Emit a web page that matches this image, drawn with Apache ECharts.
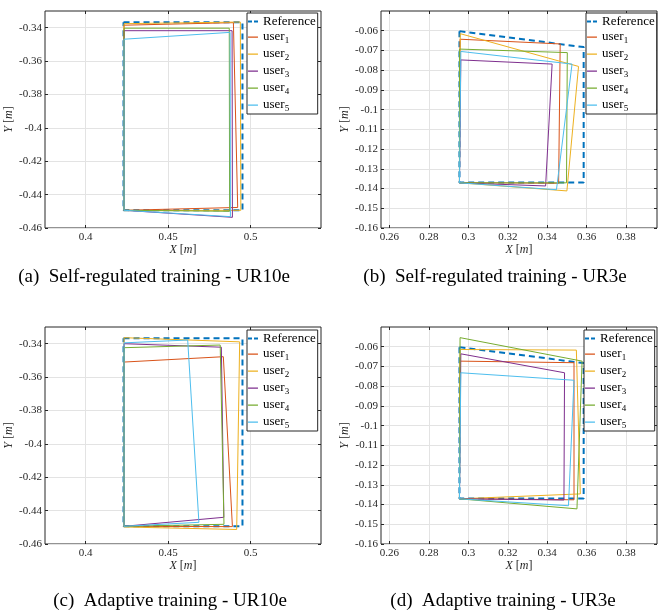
<!DOCTYPE html>
<html style="height: 100%">
<head>
    <meta charset="utf-8">
    <title>ECharts</title>
    <script src="https://cdn.jsdelivr.net/npm/echarts@6.0.0/dist/echarts.min.js"></script>
</head>
<body style="height: 100%; margin: 0; background: #fff">
<div id="main" style="width: 660px; height: 612px"></div>
<script type="text/javascript">

    // tick labels
    var xTicksUR10e = [0.4, 0.45, 0.5];
    var yTicksUR10e = [-0.46, -0.44, -0.42, -0.4, -0.38, -0.36, -0.34];
    var xTicksUR3e = [0.26, 0.28, 0.3, 0.32, 0.34, 0.36, 0.38];
    var yTicksUR3e = [-0.16, -0.15, -0.14, -0.13, -0.12, -0.11, -0.1, -0.09, -0.08, -0.07, -0.06];

    var userNames = ['user1', 'user2', 'user3', 'user4', 'user5'];

    // reference paths (corners)
    var refUR10e = [[0.4229, -0.3368], [0.4950, -0.3368], [0.4950, -0.4494], [0.4229, -0.4494]];
    var refUR3e = [[0.2955, -0.0602], [0.3585, -0.0683], [0.3585, -0.1369], [0.2955, -0.1369]];

    // user paths, user1..user5 (corners)
    var selfUR10e = [
        [[0.4232, -0.3385], [0.4895, -0.3370], [0.4921, -0.4477], [0.4232, -0.4494]],
        [[0.4232, -0.3376], [0.4937, -0.3366], [0.4940, -0.4494], [0.4232, -0.4496]],
        [[0.4232, -0.3418], [0.4887, -0.3418], [0.4889, -0.4536], [0.4232, -0.4494]],
        [[0.4232, -0.3403], [0.4870, -0.3403], [0.4872, -0.4500], [0.4232, -0.4494]],
        [[0.4232, -0.3469], [0.4875, -0.3428], [0.4877, -0.4532], [0.4232, -0.4494]]
    ];
    var selfUR3e = [
        [[0.2958, -0.0643], [0.3466, -0.0667], [0.3458, -0.1373], [0.2955, -0.1370]],
        [[0.2959, -0.0615], [0.3559, -0.0781], [0.3500, -0.1412], [0.2955, -0.1371]],
        [[0.2962, -0.0748], [0.3425, -0.0769], [0.3392, -0.1387], [0.2955, -0.1371]],
        [[0.2955, -0.0693], [0.3502, -0.0711], [0.3498, -0.1371], [0.2955, -0.1371]],
        [[0.2962, -0.0705], [0.3526, -0.0769], [0.3447, -0.1406], [0.2955, -0.1371]]
    ];
    var adaptUR10e = [
        [[0.4232, -0.3510], [0.4834, -0.3478], [0.4889, -0.4496], [0.4232, -0.4494]],
        [[0.4232, -0.3364], [0.4933, -0.3389], [0.4915, -0.4513], [0.4232, -0.4498]],
        [[0.4232, -0.3400], [0.4822, -0.3421], [0.4837, -0.4440], [0.4232, -0.4494]],
        [[0.4232, -0.3424], [0.4815, -0.3408], [0.4838, -0.4482], [0.4232, -0.4494]],
        [[0.4232, -0.3395], [0.4618, -0.3378], [0.4686, -0.4470], [0.4232, -0.4494]]
    ];
    var adaptUR3e = [
        [[0.2958, -0.0673], [0.3536, -0.0681], [0.3536, -0.1376], [0.2955, -0.1370]],
        [[0.2958, -0.0614], [0.3548, -0.0617], [0.3568, -0.1346], [0.2955, -0.1371]],
        [[0.2962, -0.0636], [0.3488, -0.0732], [0.3485, -0.1377], [0.2955, -0.1371]],
        [[0.2958, -0.0554], [0.3577, -0.0673], [0.3551, -0.1422], [0.2955, -0.1371]],
        [[0.2962, -0.0732], [0.3536, -0.0770], [0.3508, -0.1406], [0.2955, -0.1371]]
    ];

    var captions = [
        '(a)  Self-regulated training - UR10e',
        '(b)  Self-regulated training - UR3e',
        '(c)  Adaptive training - UR10e',
        '(d)  Adaptive training - UR3e'
    ];

    var refColor = '#0072BD';
    var userColors = ['#D95319', '#EDB120', '#7E2F8E', '#77AC30', '#4DBEEE'];
    var serif = '"Liberation Serif", "DejaVu Serif", serif';
    var ink = '#262626';

    // legend samples: dashed for the reference, plain line for users
    var refIcon = 'path://M0,0h4v2h-4zM6,0h4v2h-4z';
    var userIcon = 'path://M0,0.5h10v1.2h-10zM0,0h0.01v0.01h-0.01zM0,2h0.01v0.01h-0.01z';

    var panels = [
        {grid: {left: 45, top: 11, width: 276, height: 217}, xr: [0.3753, 0.5426], yr: [-0.46, -0.33],
            xt: xTicksUR10e, yt: yTicksUR10e, ref: refUR10e, users: selfUR10e, leg: [247, 13], cap: [154, 276]},
        {grid: {left: 381, top: 11, width: 276, height: 217}, xr: [0.2557, 0.3957], yr: [-0.16, -0.05],
            xt: xTicksUR3e, yt: yTicksUR3e, ref: refUR3e, users: selfUR3e, leg: [586, 13], cap: [495, 276]},
        {grid: {left: 45, top: 327, width: 276, height: 217}, xr: [0.3753, 0.5426], yr: [-0.46, -0.33],
            xt: xTicksUR10e, yt: yTicksUR10e, ref: refUR10e, users: adaptUR10e, leg: [247, 330], cap: [170, 600]},
        {grid: {left: 381, top: 327, width: 276, height: 217}, xr: [0.2557, 0.3957], yr: [-0.16, -0.05],
            xt: xTicksUR3e, yt: yTicksUR3e, ref: refUR3e, users: adaptUR3e, leg: [584, 330], cap: [503, 600]}
    ];

    function closed(pts) {
        return pts.concat([pts[0]]);
    }

    var nameRich = {
        i: {fontFamily: serif, fontStyle: 'italic', fontSize: 12, color: ink},
        n: {fontFamily: serif, fontSize: 12, color: ink}
    };

    var grids = [], xAxes = [], yAxes = [], series = [], legends = [], graphics = [];

    panels.forEach(function (p, k) {
        grids.push(Object.assign({show: true, borderColor: ink, borderWidth: 1, backgroundColor: '#fff'}, p.grid));

        xAxes.push({
            gridIndex: k, type: 'value', min: p.xr[0], max: p.xr[1],
            name: '{i|X}{n| [}{i|m}{n|]}', nameLocation: 'middle', nameGap: 16,
            nameTextStyle: {rich: nameRich},
            axisLine: {show: false},
            axisTick: {inside: true, length: 3, customValues: p.xt, lineStyle: {color: ink}},
            axisLabel: {customValues: p.xt, fontFamily: serif, fontSize: 11, color: ink, margin: 4},
            splitLine: {show: true, lineStyle: {color: '#e3e3e3', width: 1}}
        });
        xAxes.push({
            gridIndex: k, type: 'value', position: 'top', min: p.xr[0], max: p.xr[1],
            axisLine: {show: false}, axisLabel: {show: false}, splitLine: {show: false},
            axisTick: {inside: true, length: 3, customValues: p.xt, lineStyle: {color: ink}}
        });
        yAxes.push({
            gridIndex: k, type: 'value', min: p.yr[0], max: p.yr[1],
            name: '{i|Y}{n| [}{i|m}{n|]}', nameLocation: 'middle', nameGap: 30,
            nameTextStyle: {rich: nameRich},
            axisLine: {show: false},
            axisTick: {inside: true, length: 3, customValues: p.yt, lineStyle: {color: ink}},
            axisLabel: {customValues: p.yt, fontFamily: serif, fontSize: 11, color: ink, margin: 3},
            splitLine: {show: true, lineStyle: {color: '#e3e3e3', width: 1}}
        });
        yAxes.push({
            gridIndex: k, type: 'value', position: 'right', min: p.yr[0], max: p.yr[1],
            axisLine: {show: false}, axisLabel: {show: false}, splitLine: {show: false},
            axisTick: {inside: true, length: 3, customValues: p.yt, lineStyle: {color: ink}}
        });

        series.push({
            name: 'Reference', type: 'line', xAxisIndex: 2 * k, yAxisIndex: 2 * k,
            data: closed(p.ref), symbol: 'none', z: 2,
            lineStyle: {color: refColor, width: 2, type: [6, 4]}, itemStyle: {color: refColor}
        });
        p.users.forEach(function (pts, u) {
            series.push({
                name: userNames[u], type: 'line', xAxisIndex: 2 * k, yAxisIndex: 2 * k,
                data: closed(pts), symbol: 'none', z: 3,
                lineStyle: {color: userColors[u], width: 1}, itemStyle: {color: userColors[u]}
            });
        });

        legends.push({
            left: p.leg[0], top: p.leg[1], orient: 'vertical',
            data: [{name: 'Reference', icon: refIcon}].concat(userNames.map(function (n) {
                return {name: n, icon: userIcon};
            })),
            backgroundColor: '#fff', borderColor: ink, borderWidth: 1, borderRadius: 0,
            padding: [2, 2, 1, 1], itemGap: 2.5, itemWidth: 10, itemHeight: 2,
            selectedMode: false,
            formatter: function (n) {
                return n === 'Reference' ? '{t|Reference}' : '{t|user}{s|' + n.slice(4) + '}';
            },
            textStyle: {
                rich: {
                    t: {fontFamily: serif, fontSize: 13, color: '#000'},
                    s: {fontFamily: serif, fontSize: 9, color: '#000', padding: [7, 0, 0, 0]}
                }
            }
        });

        graphics.push({
            type: 'text', x: p.cap[0], y: p.cap[1] + 1,
            style: {text: captions[k], fontFamily: serif, fontSize: 19, fill: '#000',
                textAlign: 'center', textVerticalAlign: 'middle'}
        });
    });

    var myChart = echarts.init(document.getElementById('main'));

    var option = {
        animation: false,
        backgroundColor: '#fff',
        grid: grids,
        xAxis: xAxes,
        yAxis: yAxes,
        legend: legends,
        series: series,
        graphic: graphics
    };

    myChart.setOption(option);
</script>
</body>
</html>
